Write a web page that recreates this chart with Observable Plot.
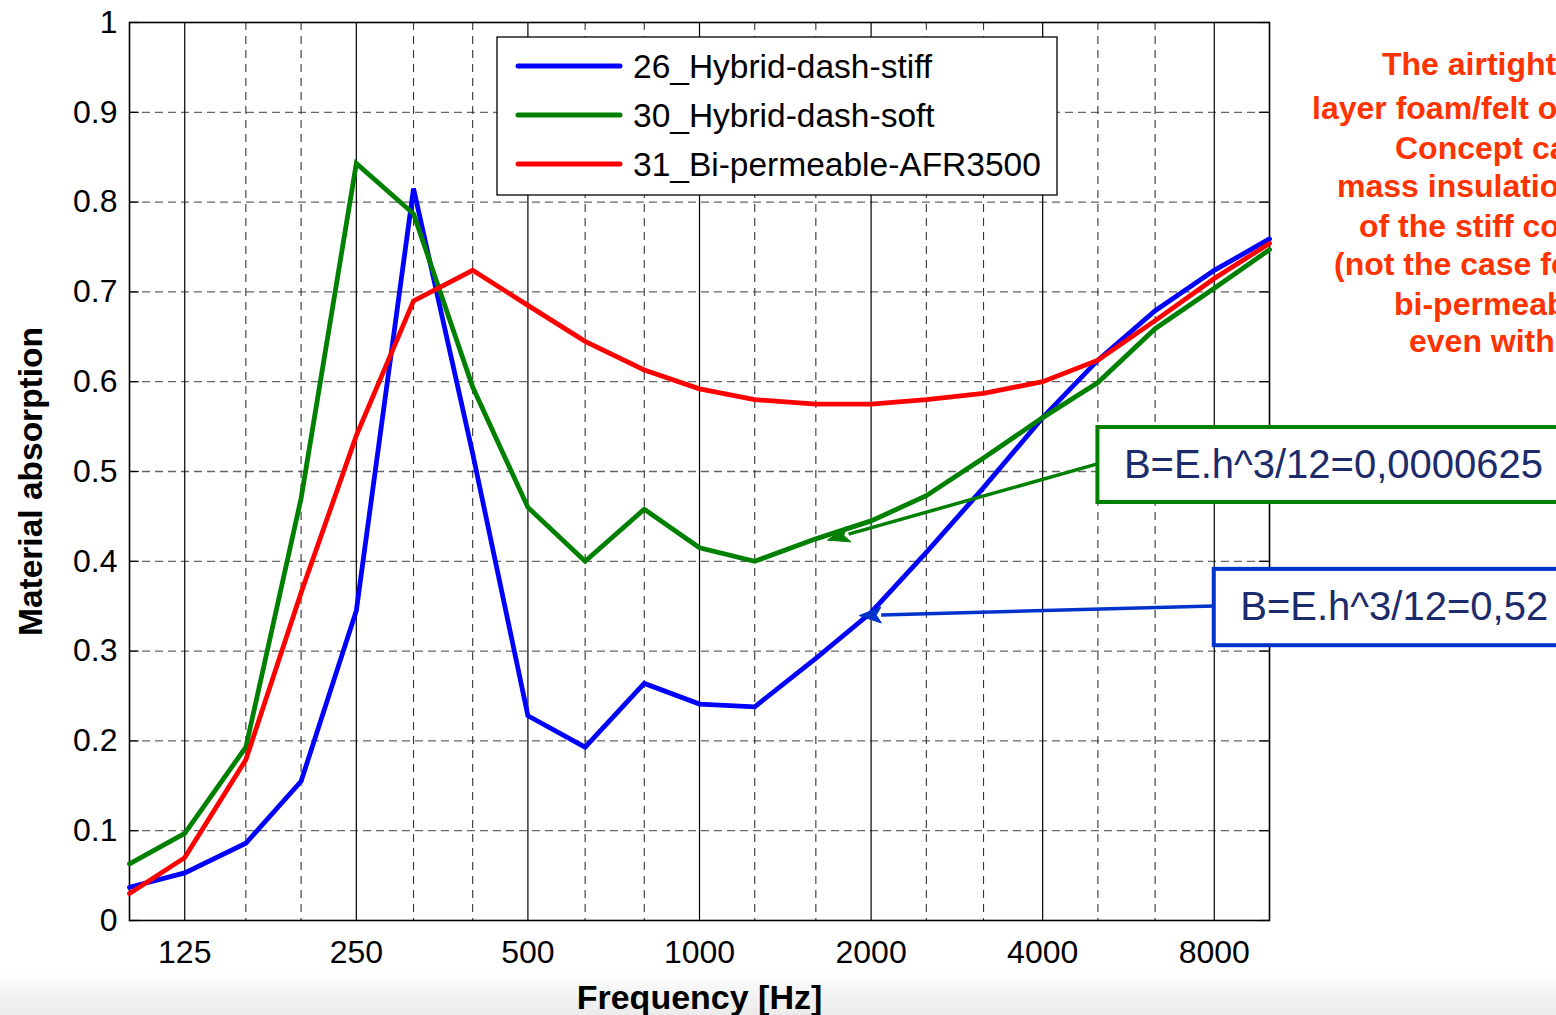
<!DOCTYPE html>
<html>
<head>
<meta charset="utf-8">
<script src="https://cdn.jsdelivr.net/npm/d3@7"></script>
<script src="https://cdn.jsdelivr.net/npm/@observablehq/plot@0.6"></script>
<style>
html, body { margin: 0; padding: 0; overflow: hidden; width: 1556px; height: 1015px; }
body { background: linear-gradient(to bottom, #ffffff 0px, #ffffff 972px, #f3f3f3 995px, #ebebeb 1015px); }
#chart svg { display: block; }
</style>
</head>
<body>
<div id="chart"></div>
<script>
// ---- data ----
const freqs = [100, 125, 160, 200, 250, 315, 400, 500, 630, 800, 1000, 1250, 1600, 2000, 2500, 3150, 4000, 5000, 6300, 8000, 10000];
const stiff  = [0.037, 0.053, 0.086, 0.155, 0.345, 0.815, 0.52, 0.228, 0.193, 0.264, 0.241, 0.238, 0.292, 0.343, 0.41, 0.482, 0.56, 0.624, 0.679, 0.724, 0.759];
const soft   = [0.063, 0.097, 0.193, 0.47, 0.843, 0.787, 0.594, 0.46, 0.4, 0.458, 0.415, 0.4, 0.425, 0.445, 0.473, 0.515, 0.56, 0.599, 0.659, 0.704, 0.747];
const biperm = [0.03, 0.07, 0.179, 0.365, 0.54, 0.69, 0.724, 0.685, 0.645, 0.613, 0.592, 0.58, 0.575, 0.575, 0.58, 0.587, 0.6, 0.624, 0.668, 0.715, 0.754];
const seriesNames = ["26_Hybrid-dash-stiff", "30_Hybrid-dash-soft", "31_Bi-permeable-AFR3500"];
const xTicks = [125, 250, 500, 1000, 2000, 4000, 8000];
const yTicks = [0, 0.1, 0.2, 0.3, 0.4, 0.5, 0.6, 0.7, 0.8, 0.9, 1];
const xLabel = "Frequency [Hz]";
const yLabel = "Material absorption";
const noteLines = ["The airtight", "layer foam/felt o", "Concept ca", "mass insulatio", "of the stiff co", "(not the case fo", "bi-permeab", "even with"];
const annLabels = ["B=E.h^3/12=0,0000625", "B=E.h^3/12=0,52"];

// ---- styling / layout ----
const colors = ["#0000ff", "#008000", "#ff0000"];
const FONT = "'Liberation Sans', Arial, sans-serif";
const seriesValues = [stiff, soft, biperm];
const rows = seriesValues.flatMap((vals, s) => vals.map((v, i) => ({series: seriesNames[s], f: freqs[i], a: v})));
const thirdGrid = freqs.filter(f => !xTicks.includes(f) && f !== 100 && f !== 10000);

// annotation placement (data coordinates)
const annLayout = [
  {label: annLabels[0], color: "#008000", bx1: 5000, bx2: 40000, by1: 0.4655, by2: 0.549, ty: 0.507,
   ax1: 5000, ay1: 0.508, ax2: 1680, ay2: 0.423},
  {label: annLabels[1], color: "#0033cc", bx1: 8000, bx2: 40000, by1: 0.306, by2: 0.391, ty: 0.3485,
   ax1: 8000, ay1: 0.3496, ax2: 1910, ay2: 0.339}
];

function arrowMark(index, scales) {
  const g = d3.create("svg:g");
  for (const a of annLayout) {
    const x1 = scales.x(a.ax1), y1 = scales.y(a.ay1), x2 = scales.x(a.ax2), y2 = scales.y(a.ay2);
    const ang = Math.atan2(y2 - y1, x2 - x1);
    const L = 22, W = 8;
    const bx = x2 - L * Math.cos(ang), by = y2 - L * Math.sin(ang);
    g.append("line").attr("x1", x1).attr("y1", y1).attr("x2", bx).attr("y2", by)
      .attr("stroke", a.color).attr("stroke-width", 3.5);
    const px = -Math.sin(ang), py = Math.cos(ang);
    g.append("path")
      .attr("d", `M${x2},${y2}L${bx + W * px},${by + W * py}L${bx + 5 * Math.cos(ang)},${by + 5 * Math.sin(ang)}L${bx - W * px},${by - W * py}Z`)
      .attr("fill", a.color).attr("stroke", a.color).attr("stroke-width", 1);
  }
  return g.node();
}

function legendMark(index, scales, values, dims) {
  const g = d3.create("svg:g");
  g.append("rect").attr("x", 497).attr("y", 37).attr("width", 560).attr("height", 158)
    .attr("fill", "white").attr("stroke", "black").attr("stroke-width", 1.3);
  seriesNames.forEach((n, i) => {
    const y = 66 + i * 49;
    g.append("line").attr("x1", 518).attr("x2", 620).attr("y1", y).attr("y2", y)
      .attr("stroke", colors[i]).attr("stroke-width", 5).attr("stroke-linecap", "round");
    g.append("text").attr("x", 633).attr("y", y).attr("dy", "0.35em").attr("text-anchor", "start")
      .attr("font-size", 33.5).attr("font-family", FONT).attr("fill", "black").text(n);
  });
  return g.node();
}

const chart = Plot.plot({
  width: 1556,
  height: 1015,
  marginLeft: 129,
  marginRight: 287,
  marginTop: 22,
  marginBottom: 95,
  style: {fontFamily: FONT, fontSize: "31px", background: "transparent", overflow: "visible"},
  x: {type: "log", domain: [100, 10000], axis: null},
  y: {domain: [0, 1], axis: null},
  color: {domain: seriesNames, range: colors},
  marks: [
    Plot.frame({fill: "white"}),
    Plot.ruleY(yTicks.slice(1, -1), {stroke: "#666", strokeWidth: 1.3, strokeDasharray: "8,5"}),
    Plot.ruleX(thirdGrid, {stroke: "#333", strokeWidth: 1.1, strokeDasharray: "8,6"}),
    Plot.ruleX(xTicks, {stroke: "#000", strokeWidth: 1.2}),
    Plot.ruleY(yTicks, {x1: 100, x2: 104, stroke: "#000", strokeWidth: 1.2}),
    Plot.ruleY(yTicks, {x1: 9600, x2: 10000, stroke: "#000", strokeWidth: 1.2}),
    Plot.frame({stroke: "#000", strokeWidth: 1.6}),
    Plot.text(xTicks, {x: d => d, text: d => String(d), frameAnchor: "bottom", dy: 42, textAnchor: "middle", fontSize: 32, fill: "black"}),
    Plot.text(yTicks, {y: d => d, text: d => String(d), frameAnchor: "left", dx: -12, textAnchor: "end", fontSize: 32, fill: "black"}),
    Plot.text([xLabel], {text: d => d, frameAnchor: "bottom", dy: 88, textAnchor: "middle", fontWeight: "bold", fontSize: 34, fill: "black"}),
    Plot.text([yLabel], {text: d => d, frameAnchor: "left", dx: -98, dy: 10, rotate: -90, textAnchor: "middle", fontWeight: "bold", fontSize: 33.5, fill: "black"}),
    Plot.line(rows, {x: "f", y: "a", z: "series", stroke: "series", strokeWidth: 4.8, strokeLinejoin: "miter", strokeMiterlimit: 3}),
    arrowMark,
    Plot.rect(annLayout, {x1: "bx1", x2: "bx2", y1: "by1", y2: "by2", fill: "white", stroke: "color", strokeWidth: 4, clip: false}),
    Plot.text(annLayout, {x: "bx1", y: "ty", text: "label", dx: 26, textAnchor: "start", fontSize: 40, fill: "#1c2b6b"}),
    legendMark
  ]
});

// red note text on the right (cut by the page edge in the source)
const svg = d3.select(chart);
const noteX = [1382, 1312, 1395, 1337, 1359, 1334, 1394, 1409];
const noteY = [75, 119, 159, 197, 237, 275, 315, 352];
noteLines.forEach((t, i) => {
  svg.append("text").attr("x", noteX[i]).attr("y", noteY[i]).attr("text-anchor", "start")
    .attr("font-family", FONT).attr("font-size", 32).attr("font-weight", "bold")
    .attr("fill", "#ff3300").style("white-space", "pre").text(t);
});

document.getElementById("chart").appendChild(chart);
</script>
</body>
</html>
